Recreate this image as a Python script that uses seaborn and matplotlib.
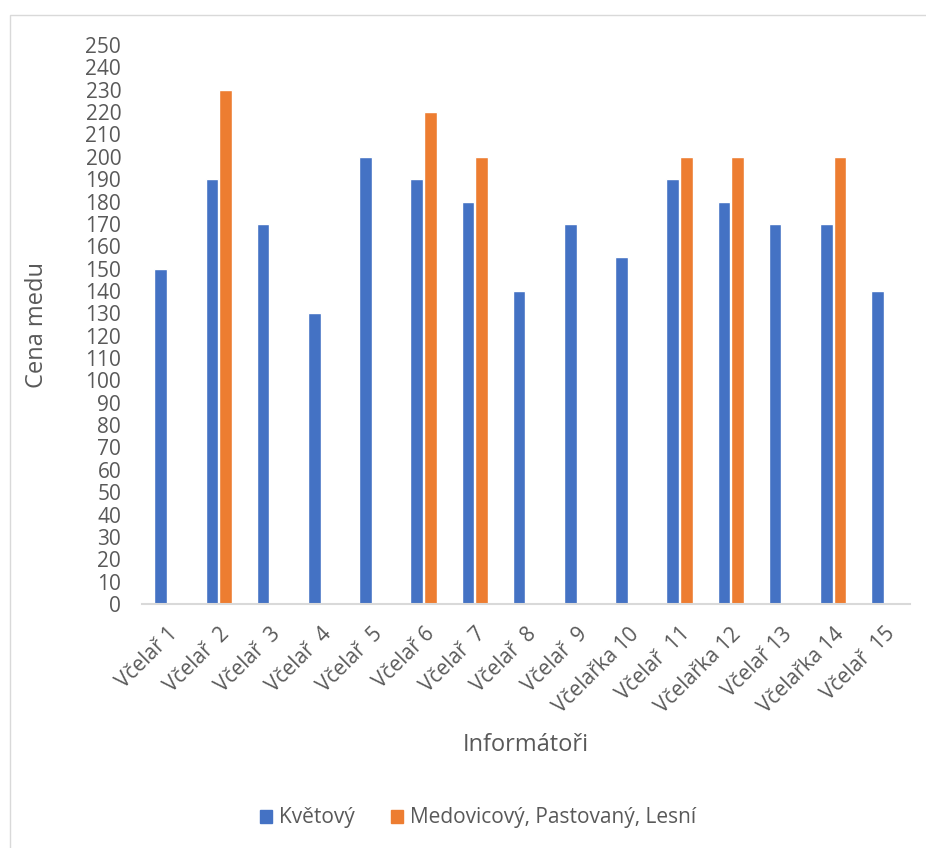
import numpy as np
import pandas as pd
import seaborn as sns
import matplotlib.pyplot as plt
import matplotlib.patches as patches

informatori = ["Včelař 1", "Včelař  2", "Včelař  3", "Včelař  4", "Včelař  5", "Včelař 6",
               "Včelař  7", "Včelař  8", "Včelař  9", "Včelařka 10", "Včelař  11",
               "Včelařka 12", "Včelař 13", "Včelařka 14", "Včelař  15"]
kvetovy = [150, 190, 170, 130, 200, 190, 180, 140, 170, 155, 190, 180, 170, 170, 140]
medovicovy = [np.nan, 230, np.nan, np.nan, np.nan, 220, 200, np.nan, np.nan, np.nan,
              200, 200, np.nan, 200, np.nan]
serie = ["Květový", "Medovicový, Pastovaný, Lesní"]
barvy = ["#4472C4", "#ED7D31"]

df = pd.DataFrame({
    "Informátoři": informatori * 2,
    "Cena": kvetovy + medovicovy,
    "Med": [serie[0]] * len(informatori) + [serie[1]] * len(informatori),
})

sns.set_style("white")
plt.rcParams['font.family'] = ['Open Sans', 'DejaVu Sans']
text_color = "#595959"

fig = plt.figure(figsize=(9.26, 8.48), dpi=100)
ax = fig.add_axes([142/926, 1 - 604/848, (910 - 142)/926, (604 - 45)/848])

sns.barplot(data=df, x="Informátoři", y="Cena", hue="Med", order=informatori,
            hue_order=serie, palette=barvy, width=0.54, gap=0.08, ax=ax,
            legend=False, saturation=1)

ax.set_ylim(0, 250)
ax.set_xlim(-0.5, len(informatori) - 0.5)
ax.set_yticks(range(0, 251, 10))
for s in ["top", "right", "left"]:
    ax.spines[s].set_visible(False)
ax.spines["bottom"].set_color("#d9d9d9")
ax.spines["bottom"].set_linewidth(1.5)
ax.tick_params(axis="y", length=0, pad=15, labelsize=15, labelcolor=text_color)
ax.tick_params(axis="x", length=0, pad=14, labelsize=15, labelcolor=text_color)
for lbl in ax.get_xticklabels():
    lbl.set_rotation(45)
    lbl.set_ha("right")
    lbl.set_rotation_mode("anchor")
ax.set_xlabel("Informátoři", fontsize=17, color=text_color)
ax.set_ylabel("Cena medu", fontsize=17, color=text_color)
ax.xaxis.set_label_coords(0.5, (604 - 745) / 559)
ax.yaxis.set_label_coords((37 - 142) / 768, 0.5)
ax.xaxis.label.set_va("center")
ax.yaxis.label.set_va("center")

handles = [patches.Patch(color=c) for c in barvy]
fig.legend(handles, serie, loc="center", bbox_to_anchor=(478/926, 1 - 818/848),
           ncol=2, frameon=False, fontsize=15, labelcolor=text_color,
           handlelength=0.6, handleheight=0.6, columnspacing=1.7, handletextpad=0.35)

border = patches.Rectangle((10/926, -0.05), 1.0, 1 - 15/848 + 0.05, transform=fig.transFigure,
                           fill=False, edgecolor="#d9d9d9", linewidth=1)
fig.patches.append(border)

fig.savefig("out.png", dpi=100)
